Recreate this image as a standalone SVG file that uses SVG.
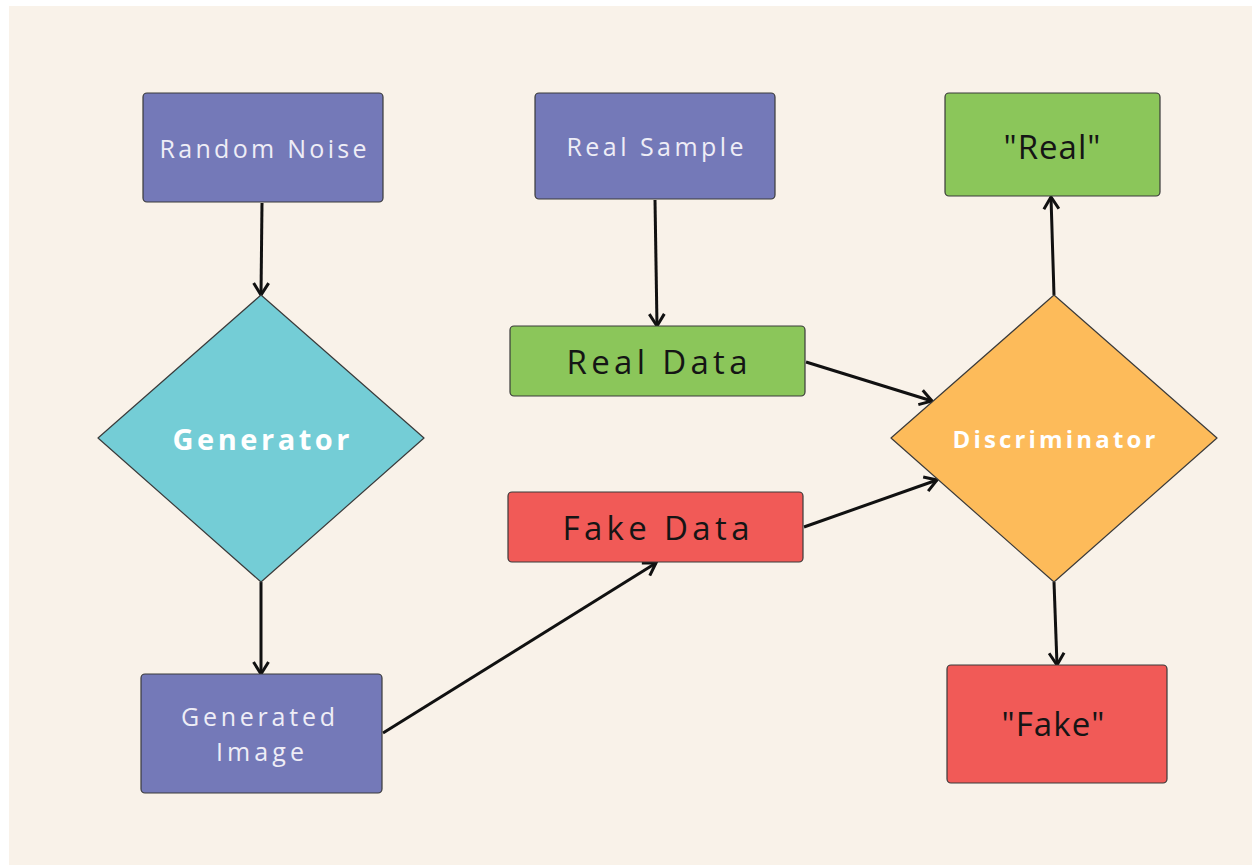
<svg xmlns="http://www.w3.org/2000/svg" width="1252" height="865" viewBox="0 0 1252 865">
  <style>
    .box { stroke: #3a3a3a; stroke-width: 1.2; }
    .purple { fill: #7479b8; }
    .green { fill: #8bc65a; }
    .red { fill: #f15a57; }
    .cyan { fill: #74cdd6; }
    .orange { fill: #fdbb5a; }
    .lbl { font-family: "Open Sans", "Liberation Sans", sans-serif; text-anchor: middle; dominant-baseline: central; }
    .light { fill: #eeedf6; font-size: 25px; }
    .dark { fill: #151515; font-size: 33px; }
    .bold { fill: #ffffff; font-weight: 700; }
    .edge { stroke: #111111; stroke-width: 3; fill: none; marker-end: url(#chev); }
  </style>
  <defs>
    <marker id="chev" markerUnits="userSpaceOnUse" viewBox="0 0 16 18" refX="14" refY="9" markerWidth="16" markerHeight="18" orient="auto">
      <path d="M2,1.5 L14,9 L2,16.5" fill="none" stroke="#111111" stroke-width="3" stroke-linejoin="miter"/>
    </marker>
  </defs>

  <!-- canvas -->
  <rect x="0" y="0" width="1252" height="865" fill="#ffffff"/>
  <rect x="9" y="6" width="1243" height="859" fill="#f9f2e9"/>

  <!-- connectors -->
  <g id="connectors">
    <line class="edge" x1="262" y1="203" x2="261" y2="295"/>
    <line class="edge" x1="655" y1="200" x2="657" y2="326"/>
    <line class="edge" x1="261" y1="582" x2="261" y2="674"/>
    <line class="edge" x1="383" y1="733" x2="656" y2="563"/>
    <line class="edge" x1="806" y1="362" x2="932" y2="401"/>
    <line class="edge" x1="804" y1="527" x2="937" y2="480"/>
    <line class="edge" x1="1054" y1="295" x2="1051" y2="197"/>
    <line class="edge" x1="1054" y1="582" x2="1057" y2="665"/>
  </g>

  <g id="random-noise">
    <rect class="box purple" x="143" y="93" width="240" height="109" rx="4"/>
    <text class="lbl light" x="263" y="148" textLength="207" lengthAdjust="spacing">Random Noise</text>
  </g>

  <g id="real-sample">
    <rect class="box purple" x="535" y="93" width="240" height="106" rx="4"/>
    <text class="lbl light" x="655" y="146" textLength="177" lengthAdjust="spacing">Real Sample</text>
  </g>

  <g id="generator">
    <path class="box cyan" d="M261,295 L424,438 L261,582 L98,438 Z" stroke-linejoin="round"/>
    <text class="lbl bold" x="261" y="438" font-size="29" textLength="177" lengthAdjust="spacing">Generator</text>
  </g>

  <g id="real-data">
    <rect class="box green" x="510" y="326" width="295" height="70" rx="4"/>
    <text class="lbl dark" x="657" y="361" textLength="181" lengthAdjust="spacing">Real Data</text>
  </g>

  <g id="fake-data">
    <rect class="box red" x="508" y="492" width="295" height="70" rx="4"/>
    <text class="lbl dark" x="656" y="527" textLength="187" lengthAdjust="spacing">Fake Data</text>
  </g>

  <g id="generated-image">
    <rect class="box purple" x="141" y="674" width="241" height="119" rx="4"/>
    <text class="lbl light" x="258" y="716" textLength="154" lengthAdjust="spacing">Generated</text>
    <text class="lbl light" x="260" y="751" textLength="88" lengthAdjust="spacing">Image</text>
  </g>

  <g id="discriminator">
    <path class="box orange" d="M1054,295 L1217,438 L1054,582 L891,438 Z" stroke-linejoin="round"/>
    <text class="lbl bold" x="1054" y="438" font-size="24" textLength="203" lengthAdjust="spacing">Discriminator</text>
  </g>

  <g id="out-real">
    <rect class="box green" x="945" y="93" width="215" height="103" rx="4"/>
    <text class="lbl dark" x="1052" y="146" font-size="29" textLength="97" lengthAdjust="spacing">"Real"</text>
  </g>

  <g id="out-fake">
    <rect class="box red" x="947" y="665" width="220" height="118" rx="4"/>
    <text class="lbl dark" x="1053" y="723" font-size="29" textLength="103" lengthAdjust="spacing">"Fake"</text>
  </g>
</svg>
